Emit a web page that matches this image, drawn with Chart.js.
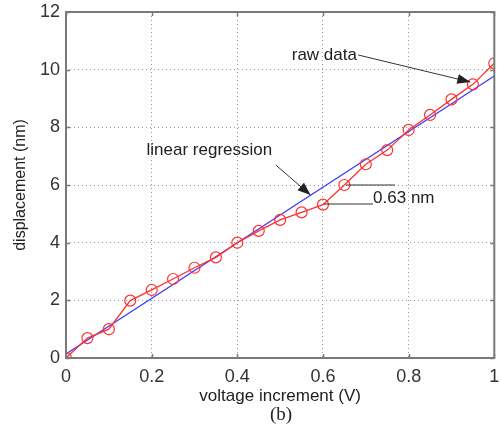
<!DOCTYPE html>
<html>
<head>
<meta charset="utf-8">
<script src="https://cdn.jsdelivr.net/npm/chart.js@4.4.0/dist/chart.umd.min.js"></script>
<style>
html, body { margin: 0; padding: 0; background: #fff; }
#wrap { width: 501px; height: 429px; position: relative; }
</style>
</head>
<body>
<div id="wrap"><canvas id="canvas"></canvas></div>
<script>
// raw measurement
const voltage = [0, 0.05, 0.1, 0.15, 0.2, 0.25, 0.3, 0.35, 0.4, 0.45, 0.5, 0.55, 0.6, 0.65, 0.7, 0.75, 0.8, 0.85, 0.9, 0.95, 1];
const displacement = [0, 0.69, 1.0, 1.99, 2.36, 2.74, 3.13, 3.49, 4.0, 4.41, 4.79, 5.05, 5.32, 6.0, 6.72, 7.21, 7.91, 8.43, 8.97, 9.49, 10.22];
// linear regression end points
const fitVoltage = [0, 1];
const fitDisplacement = [0.14, 9.78];
const xTicks = [0, 0.2, 0.4, 0.6, 0.8, 1];
const yTicks = [0, 2, 4, 6, 8, 10, 12];

const FONT = '"Liberation Sans", Arial, Helvetica, sans-serif';
const ctx = document.getElementById('canvas');

// annotations in data coordinates
const notes = {
    texts: [
        { text: 'raw data', x: 0.527, y: 10.51 },
        { text: 'linear regression', x: 0.188, y: 7.21 },
        { text: '0.63 nm', x: 0.717, y: 5.55 }
    ],
    arrows: [
        { from: [0.682, 10.51], to: [0.944, 9.57] },
        { from: [0.49, 6.69], to: [0.571, 5.65] }
    ],
    lines: [
        { from: [0.654, 6.0], to: [0.768, 6.0] },
        { from: [0.601, 5.34], to: [0.717, 5.34] }
    ]
};

const framePlugin = {
    id: 'frame',
    afterDraw(chart) {
        const { ctx: c, chartArea: a, scales } = chart;
        c.save();
        c.strokeStyle = '#7a7a7a';
        c.lineWidth = 1.5;
        // small inner ticks on all four sides
        c.beginPath();
        xTicks.forEach(v => {
            const px = Math.round(scales.x.getPixelForValue(v)) + 0.5;
            c.moveTo(px, a.bottom); c.lineTo(px, a.bottom - 4);
            c.moveTo(px, a.top); c.lineTo(px, a.top + 4);
        });
        yTicks.forEach(v => {
            const py = Math.round(scales.y.getPixelForValue(v)) + 0.5;
            c.moveTo(a.left, py); c.lineTo(a.left + 4, py);
            c.moveTo(a.right, py); c.lineTo(a.right - 4, py);
        });
        c.stroke();
        c.lineWidth = 2;
        c.strokeRect(a.left, a.top, a.right - a.left, a.bottom - a.top);

        // annotations
        const px = v => scales.x.getPixelForValue(v);
        const py = v => scales.y.getPixelForValue(v);
        c.fillStyle = '#222';
        c.strokeStyle = '#333';
        c.lineWidth = 1;
        c.font = '17px ' + FONT;
        c.textBaseline = 'middle';
        c.textAlign = 'left';
        notes.texts.forEach(t => c.fillText(t.text, px(t.x), py(t.y)));
        notes.lines.forEach(l => {
            c.beginPath();
            c.moveTo(px(l.from[0]), py(l.from[1]));
            c.lineTo(px(l.to[0]), py(l.to[1]));
            c.stroke();
        });
        notes.arrows.forEach(ar => {
            const x1 = px(ar.from[0]), y1 = py(ar.from[1]);
            const x2 = px(ar.to[0]), y2 = py(ar.to[1]);
            const ang = Math.atan2(y2 - y1, x2 - x1);
            c.beginPath();
            c.moveTo(x1, y1);
            c.lineTo(x2, y2);
            c.stroke();
            c.beginPath();
            c.moveTo(x2, y2);
            c.lineTo(x2 - 13 * Math.cos(ang) + 5 * Math.sin(ang), y2 - 13 * Math.sin(ang) - 5 * Math.cos(ang));
            c.lineTo(x2 - 13 * Math.cos(ang) - 5 * Math.sin(ang), y2 - 13 * Math.sin(ang) + 5 * Math.cos(ang));
            c.closePath();
            c.fill();
        });

        // panel label
        c.font = '19px "Liberation Serif", "Times New Roman", serif';
        c.textAlign = 'center';
        c.fillText('(b)', 281, 415);
        c.restore();
    }
};

new Chart(ctx, {
    type: 'scatter',
    data: {
        datasets: [
            {
                label: 'linear regression',
                data: fitVoltage.map((v, i) => ({ x: v, y: fitDisplacement[i] })),
                showLine: true,
                borderColor: '#3a3aff',
                borderWidth: 1.3,
                pointRadius: 0,
                order: 2
            },
            {
                label: 'raw data',
                data: voltage.map((v, i) => ({ x: v, y: displacement[i] })),
                showLine: true,
                borderColor: '#ff3030',
                backgroundColor: 'rgba(0,0,0,0)',
                borderWidth: 1.3,
                pointRadius: 5.5,
                pointBorderWidth: 1.2,
                pointBorderColor: '#ff3030',
                pointBackgroundColor: 'rgba(0,0,0,0)',
                order: 1
            }
        ]
    },
    options: {
        responsive: true,
        maintainAspectRatio: false,
        animation: false,
        layout: { padding: { left: 0, right: 4, top: 12, bottom: 22 } },
        plugins: { legend: { display: false }, tooltip: { enabled: false } },
        scales: {
            x: {
                type: 'linear',
                min: 0,
                max: 1,
                afterBuildTicks: s => { s.ticks = xTicks.map(v => ({ value: v })); },
                afterFit: s => { s.height = 49; s.paddingLeft = 0; s.paddingRight = 0; },
                ticks: {
                    color: '#333',
                    font: { family: FONT, size: 18 },
                    padding: 8,
                    maxRotation: 0,
                    callback: v => String(v)
                },
                grid: { color: '#999', lineWidth: 1, drawTicks: false },
                border: { display: false, dash: [1, 3] },
                title: {
                    display: true,
                    text: 'voltage increment (V)',
                    color: '#222',
                    font: { family: FONT, size: 17 },
                    padding: { top: 0, bottom: 0 }
                }
            },
            y: {
                type: 'linear',
                min: 0,
                max: 12,
                afterBuildTicks: s => { s.ticks = yTicks.map(v => ({ value: v })); },
                afterFit: s => { s.width = 66; s.paddingTop = 0; s.paddingBottom = 0; },
                ticks: { color: '#333', font: { family: FONT, size: 18 }, padding: 6, callback: v => String(v) },
                grid: { color: '#999', lineWidth: 1, drawTicks: false },
                border: { display: false, dash: [1, 3] },
                title: {
                    display: true,
                    text: 'displacement (nm)',
                    color: '#222',
                    font: { family: FONT, size: 16 },
                    padding: { top: 11, bottom: 0 }
                }
            }
        }
    },
    plugins: [framePlugin]
});
</script>
</body>
</html>
